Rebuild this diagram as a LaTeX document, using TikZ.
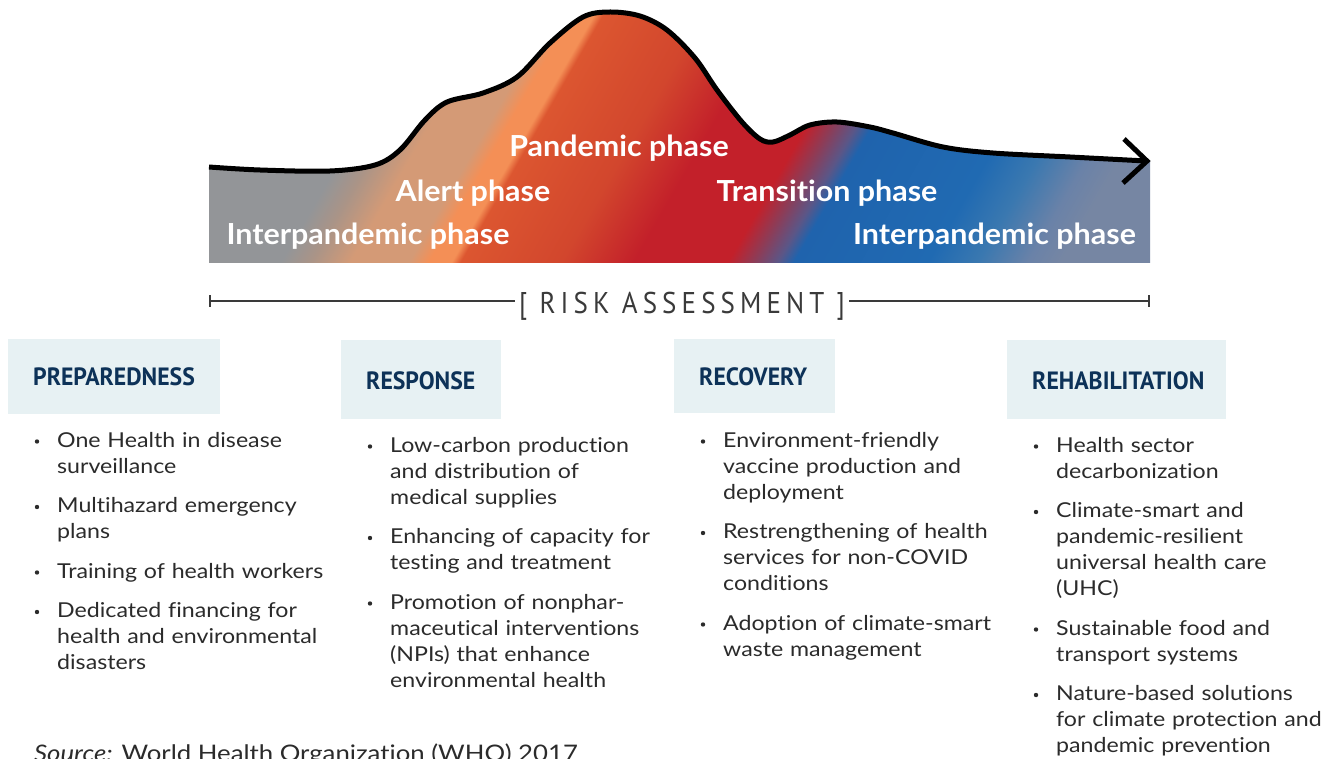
\documentclass[tikz,border=0pt]{standalone}
\usepackage{fontspec}
\setmainfont[FakeStretch=1.13,Ligatures=NoCommon]{Lato}
\newfontfamily\phasefont[FakeStretch=1.05,Ligatures=NoCommon]{Lato}
\newfontfamily\headfont[FakeStretch=0.95]{PT Sans}
\newfontfamily\riskfont[FakeStretch=0.9,LetterSpace=17]{PT Sans}
\definecolor{boxfill}{HTML}{E7F1F3}
\definecolor{navy}{HTML}{0D3258}
\definecolor{bodytext}{HTML}{2B2B2B}
\definecolor{riskgray}{HTML}{3A3A3A}
\definecolor{c0}{RGB}{147,149,152}
\definecolor{c1}{RGB}{170,148,135}
\definecolor{c2}{RGB}{212,154,118}
\definecolor{c3}{RGB}{244,143,86}
\definecolor{c4}{RGB}{220,86,48}
\definecolor{c5}{RGB}{210,70,45}
\definecolor{c6}{RGB}{195,32,42}
\definecolor{c7}{RGB}{141,60,87}
\definecolor{c8}{RGB}{91,86,135}
\definecolor{c9}{RGB}{31,99,173}
\definecolor{c10}{RGB}{32,106,178}
\definecolor{c11}{RGB}{58,120,176}
\definecolor{c12}{RGB}{106,130,168}
\definecolor{c13}{RGB}{118,134,163}
% u (bottom x in px) -> bp = 25 + (u-100)/22
\pgfdeclarehorizontalshading{phases}{100bp}{%
color(0bp)=(c0); color(25bp)=(c0); color(33.18bp)=(c0); color(34.55bp)=(c1);
color(36.36bp)=(c2); color(39.0bp)=(c2); color(39.91bp)=(c3); color(40.95bp)=(c3);
color(41.36bp)=(c4); color(45.91bp)=(c5); color(49.23bp)=(c6); color(53.5bp)=(c6);
color(54.68bp)=(c7); color(55.77bp)=(c8); color(56.5bp)=(c9); color(62.59bp)=(c10);
color(64.86bp)=(c11); color(67.14bp)=(c12); color(68.64bp)=(c13); color(75bp)=(c13);
color(100bp)=(c13)}
\tikzset{
  hbox/.style={fill=boxfill, draw=none},
  htext/.style={anchor=base west, inner sep=0pt, text=navy,
    font=\headfont\bfseries\fontsize{25}{25}\selectfont},
  item/.style={anchor=base west, inner sep=0pt, align=left, text width=300pt,
    text=bodytext, font=\fontsize{20.5}{26}\selectfont},
  bul/.style={fill=bodytext},
  phase/.style={anchor=base, inner sep=0pt, text=white,
    font=\phasefont\bfseries\fontsize{29}{29}\selectfont},
  curve/.style={line width=5pt, black},
  riskline/.style={line width=2pt, riskgray},
}
\begin{document}
\begin{tikzpicture}[x=1pt,y=-1pt]
\useasboundingbox (0,0) rectangle (1336,759);
\fill[white] (0,0) rectangle (1336,759);
% gradient area
\begin{scope}
\clip (209,263) -- (209,167)
  -- plot[smooth, tension=0.55] coordinates {(209,167) (260,170) (330,171) (375,165) (400,150) (425,120) (447,102) (483,93) (517,77) (550,43) (583,17) (610,12) (640,16) (667,30) (695,58) (717,90) (742,122) (760,139) (773,142) (790,135) (810,125) (837,122) (870,127) (893,133) (943,147) (993,153) (1070,157) (1150,161)}
  -- (1150,263) -- cycle;
\begin{scope}[transform canvas={xslant=0.576}]
\shade[shading=phases] (251.5,-5) rectangle (1351.5,270);
\end{scope}
\end{scope}
\draw[curve, line join=round]
  plot[smooth, tension=0.55] coordinates {(209,167) (260,170) (330,171) (375,165) (400,150) (425,120) (447,102) (483,93) (517,77) (550,43) (583,17) (610,12) (640,16) (667,30) (695,58) (717,90) (742,122) (760,139) (773,142) (790,135) (810,125) (837,122) (870,127) (893,133) (943,147) (993,153) (1070,157) (1146,161)};
\draw[curve, miter limit=10] (1124,139) -- (1147,161) -- (1123,183);
% phase labels
\node[phase] (pand) at (619,157) {Pandemic phase};
\node[phase] (alert) at (473,202) {Alert phase};
\node[phase] (interL) at (368,245) {Interpandemic phase};
\node[phase] (trans) at (827,202) {Transition phase};
\node[phase] (interR) at (994.5,245) {Interpandemic phase};
% risk assessment
\node[anchor=base, inner xsep=4pt, inner ysep=0pt, text=riskgray,
  font=\riskfont\fontsize{30}{30}\selectfont] (risk) at (682,313) {[ RISK ASSESSMENT ]};
\coordinate (rl) at (210,301);
\coordinate (rr) at (1149,301);
\draw[riskline] (rl) -- (rl -| risk.west);
\draw[riskline] (rr) -- (rr -| risk.east);
\draw[riskline] ([yshift=-6pt]rl) -- ([yshift=6pt]rl);
\draw[riskline] ([yshift=-6pt]rr) -- ([yshift=6pt]rr);
% header boxes
\fill[hbox] (8,339) rectangle (220,414);
\fill[hbox] (341,340) rectangle (501,419);
\fill[hbox] (674,339) rectangle (835,413);
\fill[hbox] (1007,340) rectangle (1226,419);
\node[htext] (h1) at (33,385) {PREPAREDNESS};
\node[htext] (h2) at (366,389) {RESPONSE};
\node[htext] (h3) at (699,385) {RECOVERY};
\node[htext] (h4) at (1032,389) {REHABILITATION};
% column 1
\node[item] (a1) at (57,447) {One Health in disease\\surveillance};
\node[item] (a2) at (57,512.5) {Multihazard emergency\\plans};
\node[item] (a3) at (57,578) {Training of health workers};
\node[item] (a4) at (57,617.5) {Dedicated financing for\\health and environmental\\disasters};
\foreach \y in {447,512.5,578,617.5} \fill[bul] (37,\y-5.5) circle (2.2);
% column 2
\node[item] (b1) at (390,452) {Low-carbon production\\and distribution of\\medical supplies};
\node[item] (b2) at (390,543.5) {Enhancing of capacity for\\testing and treatment};
\node[item] (b3) at (390,609) {Promotion of nonphar-\\maceutical interventions\\(NPIs) that enhance\\environmental health};
\foreach \y in {452,543.5,609} \fill[bul] (370,\y-5.5) circle (2.2);
% column 3
\node[item] (c1) at (723,447) {Environment-friendly\\vaccine production and\\deployment};
\node[item] (c2) at (723,538.5) {Restrengthening of health\\services for non-COVID\\conditions};
\node[item] (c3) at (723,630) {Adoption of climate-smart\\waste management};
\foreach \y in {447,538.5,630} \fill[bul] (703,\y-5.5) circle (2.2);
% column 4
\node[item] (d1) at (1056,452) {Health sector\\decarbonization};
\node[item] (d2) at (1056,517.5) {Climate-smart and\\pandemic-resilient\\universal health care\\(UHC)};
\node[item] (d3) at (1056,635) {Sustainable food and\\transport systems};
\node[item] (d4) at (1056,700.5) {Nature-based solutions\\for climate protection and\\pandemic prevention};
\foreach \y in {452,517.5,635,700.5} \fill[bul] (1036,\y-5.5) circle (2.2);
% source
\node[anchor=base west, inner sep=0pt, text=bodytext, font=\fontsize{22.8}{26}\selectfont] (src) at (34,761) {\textit{Source:} World Health Organization (WHO) 2017};
\end{tikzpicture}
\end{document}
